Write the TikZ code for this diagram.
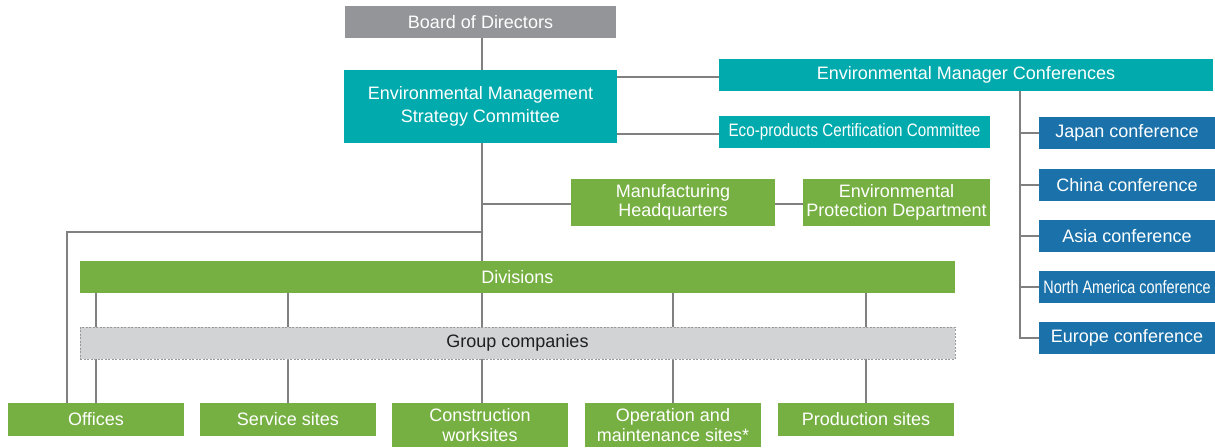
\documentclass[tikz,border=0pt]{standalone}
\usepackage{fontspec}
\setmainfont{Liberation Sans}
\newfontfamily\narrowA[FakeStretch=0.845]{Liberation Sans}
\newfontfamily\narrowB[FakeStretch=0.80]{Liberation Sans}
\usetikzlibrary{backgrounds}
\definecolor{teal}{HTML}{00AAAD}
\definecolor{grn}{HTML}{76B043}
\definecolor{blu}{HTML}{1B72AA}
\definecolor{bgray}{HTML}{939598}
\definecolor{lgray}{HTML}{D1D3D4}
\definecolor{ln}{HTML}{808080}
\tikzset{
  box/.style={inner sep=0pt, align=center, text=white, font=\fontsize{18}{19.5}\selectfont},
  tealbox/.style={box, fill=teal},
  grnbox/.style={box, fill=grn},
  blubox/.style={box, fill=blu},
  conn/.style={draw=ln, line width=1.3pt},
}
\begin{document}
\begin{tikzpicture}[x=1pt,y=-1pt]
\useasboundingbox (0,0) rectangle (1215,447);
\node[box, fill=bgray, minimum width=271, minimum height=32] (board) at (480.5,22) {Board of Directors};
\node[tealbox, minimum width=273, minimum height=73] (emsc) at (480.5,106) {Environmental Management\\[3.5pt]Strategy Committee};
\node[tealbox, minimum width=494, minimum height=32] (emc) at (966,75) {Environmental Manager Conferences};
\node[tealbox, minimum width=271, minimum height=32] (eco) at (854.5,132) {\narrowA Eco-products Certification Committee};
\node[blubox, minimum width=176, minimum height=32] (japan) at (1127,133) {Japan conference};
\node[blubox, minimum width=176, minimum height=32] (china) at (1127,185) {China conference};
\node[blubox, minimum width=176, minimum height=32] (asia) at (1127,236) {Asia conference};
\node[blubox, minimum width=176, minimum height=32] (na) at (1127,287) {\narrowB North America conference};
\node[blubox, minimum width=176, minimum height=32] (europe) at (1127,338) {Europe conference};
\node[grnbox, minimum width=204, minimum height=47] (mhq) at (673,202.5) {Manufacturing\\Headquarters};
\node[grnbox, minimum width=187, minimum height=47] (epd) at (896.5,202.5) {Environmental\\Protection Department};
\node[grnbox, minimum width=875, minimum height=32] (div) at (517.5,277) {Divisions};
\node[box, text={black!88}, fill=lgray, draw=ln!80, line width=0.8pt, dash pattern=on 2pt off 1.5pt, minimum width=875, minimum height=32] (grp) at (517.5,343) {Group companies};
\node[grnbox, minimum width=176, minimum height=33] (offices) at (96,419.5) {Offices};
\node[grnbox, minimum width=176, minimum height=33] (service) at (288,419.5) {Service sites};
\node[grnbox, minimum width=176, minimum height=44] (constr) at (480,425) {Construction\\worksites};
\node[grnbox, minimum width=176, minimum height=44] (oper) at (673,425) {Operation and\\maintenance sites*};
\node[grnbox, minimum width=176, minimum height=33] (prod) at (866,419.5) {Production sites};
\coordinate (mainx) at (482,0);
\coordinate (j) at (482,232);
\coordinate (ofl) at (67,403);
\coordinate (ct) at (1020,91);
\begin{scope}[on background layer]
\draw[conn] (board.south -| mainx) -- (div.north -| mainx);
\draw[conn] (emsc.east |- 0,77) -- (emc.west |- 0,77);
\draw[conn] (emsc.east |- 0,134) -- (eco.west |- 0,134);
\draw[conn] (mainx |- 0,204) -- (mhq.west |- 0,204);
\draw[conn] (mhq.east |- 0,204) -- (epd.west |- 0,204);
\draw[conn] (j) -| (ofl);
\draw[conn] (div.south -| mainx) -- (constr.north -| mainx);
\draw[conn] (div.south -| offices.north) -- (offices.north);
\draw[conn] (div.south -| service.north) -- (service.north);
\draw[conn] (div.south -| oper.north) -- (oper.north);
\draw[conn] (div.south -| prod.north) -- (prod.north);
\draw[conn] (ct) |- (europe.west);
\draw[conn] (japan.west -| ct) -- (japan.west);
\draw[conn] (china.west -| ct) -- (china.west);
\draw[conn] (asia.west -| ct) -- (asia.west);
\draw[conn] (na.west -| ct) -- (na.west);
\end{scope}
\end{tikzpicture}
\end{document}
